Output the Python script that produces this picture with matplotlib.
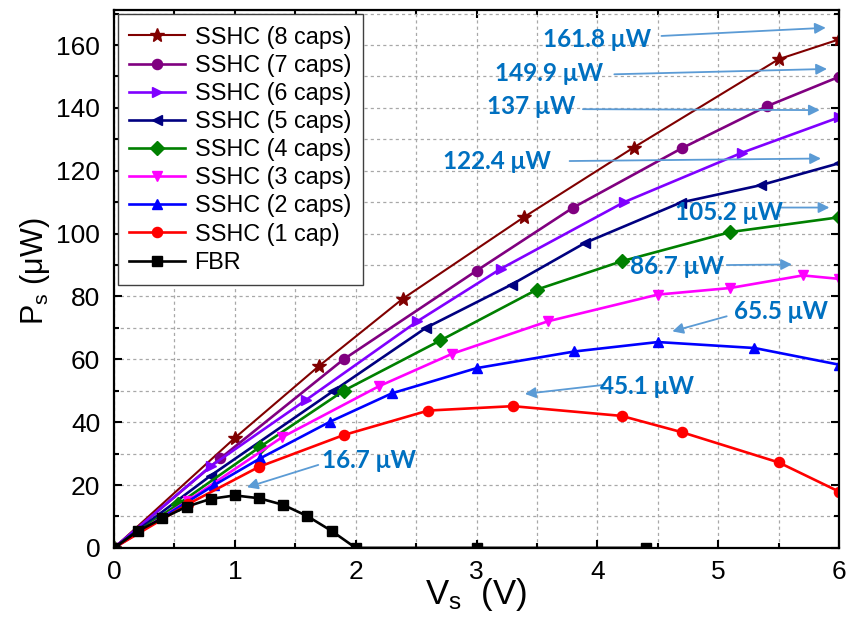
import numpy as np
import matplotlib
matplotlib.use('Agg')
import matplotlib.pyplot as plt
from matplotlib.ticker import MultipleLocator

plt.rcParams['font.family'] = ['Liberation Sans', 'DejaVu Sans']
plt.rcParams['mathtext.default'] = 'regular'

# datos
x_8caps = [0, 1.0, 1.7, 2.39, 3.39, 4.3, 5.5, 6.0]
y_8caps = [0, 35, 58, 79.3, 105.2, 127.4, 155.5, 161.8]
x_7caps = [0, 0.88, 1.9, 3.0, 3.8, 4.7, 5.4, 6.0]
y_7caps = [0, 28.5, 60, 88.2, 108.3, 127.2, 140.5, 149.9]
x_6caps = [0, 0.8, 1.59, 2.51, 3.2, 4.22, 5.2, 6.0]
y_6caps = [0, 26, 47.1, 72.1, 88.8, 110, 125.8, 137]
x_5caps = [0, 0.8, 1.81, 2.58, 3.29, 3.9, 4.69, 5.35, 6.0]
y_5caps = [0, 23, 49.8, 70, 83.8, 97.1, 109.9, 115.4, 122.4]
x_4caps = [0, 0.53, 1.21, 1.9, 2.7, 3.5, 4.2, 5.1, 6.0]
y_4caps = [0, 13.9, 32.2, 50, 66, 82.2, 91.2, 100.5, 105.2]
x_3caps = [0, 0.61, 1.39, 2.19, 2.8, 3.59, 4.5, 5.1, 5.7, 6.0]
y_3caps = [0, 15, 35.2, 51.4, 61.8, 72.1, 80.6, 82.7, 86.7, 85.6]
x_2caps = [0, 0.83, 1.21, 1.79, 2.3, 3.0, 3.81, 4.5, 5.3, 6.0]
y_2caps = [0, 20, 28.5, 40.2, 49.2, 57.2, 62.5, 65.5, 63.6, 58.3]
x_1cap = [0, 0.61, 1.2, 1.9, 2.6, 3.3, 4.2, 4.7, 5.5, 6.0]
y_1cap = [0, 13.9, 25.8, 35.9, 43.7, 45.1, 42, 36.8, 27.2, 17.9]
x_fbr = [0, 0.2, 0.4, 0.6, 0.8, 1.0, 1.2, 1.4, 1.6, 1.8, 2.0, 3.0, 4.4]
y_fbr = [0, 5.4, 9.4, 13.1, 15.6, 16.7, 15.8, 13.7, 10.1, 5.4, 0, 0, 0]

series = [
    ('SSHC (8 caps)', x_8caps, y_8caps, '#800000', '*'),
    ('SSHC (7 caps)', x_7caps, y_7caps, '#800080', 'o'),
    ('SSHC (6 caps)', x_6caps, y_6caps, '#8000FF', '>'),
    ('SSHC (5 caps)', x_5caps, y_5caps, '#000080', '<'),
    ('SSHC (4 caps)', x_4caps, y_4caps, '#008000', 'D'),
    ('SSHC (3 caps)', x_3caps, y_3caps, '#FF00FF', 'v'),
    ('SSHC (2 caps)', x_2caps, y_2caps, '#0000FF', '^'),
    ('SSHC (1 cap)', x_1cap, y_1cap, '#FF0000', 'o'),
    ('FBR', x_fbr, y_fbr, '#000000', 's'),
]

# etiquetas de potencia maxima: texto, posicion texto, cola y punta de flecha
peak_labels = ['161.8 μW', '149.9 μW', '137 μW', '122.4 μW', '105.2 μW',
               '86.7 μW', '65.5 μW', '45.1 μW', '16.7 μW']
label_xy = [(4.00, 161.9), (3.60, 150.8), (3.45, 140.3), (3.17, 123.1), (5.09, 106.8),
            (4.66, 89.6), (5.52, 75.3), (4.41, 51.3), (2.11, 27.7)]
arrow_tail = [(4.53, 162.9), (4.14, 150.7), (3.88, 139.6), (3.77, 123.1), (5.50, 108.3),
              (5.07, 90.0), (5.07, 73.7), (4.06, 51.9), (1.69, 26.4)]
arrow_head = [(5.89, 165.5), (5.90, 152.4), (5.84, 139.3), (5.85, 123.9), (5.92, 108.3),
              (5.61, 90.2), (4.62, 68.9), (3.40, 49.0), (1.10, 19.3)]

fig = plt.figure(figsize=(8.51, 6.17), dpi=100)
ax = fig.add_axes([0.134, 0.112, 0.852, 0.871])

for name, xs, ys, c, m in series:
    ms = 10 if m == '*' else 7.3
    lw = 1.5 if m == '*' else 1.9
    ax.plot(xs, ys, color=c, marker=m, ms=ms, lw=lw, label=name)

for txt, pos, t0, h in zip(peak_labels, label_xy, arrow_tail, arrow_head):
    ax.annotate('', xy=h, xytext=t0,
                arrowprops=dict(arrowstyle='-|>', color='#5B9BD5', lw=1.3,
                                mutation_scale=16, shrinkA=0, shrinkB=0))
    ax.text(pos[0], pos[1], txt, ha='center', va='center', fontsize=17.5,
            fontweight='bold', color='#0070C0', family=['Lato', 'DejaVu Sans'])

ax.set_xlim(0, 6)
ax.set_ylim(0, 171)
ax.xaxis.set_major_locator(MultipleLocator(1))
ax.xaxis.set_minor_locator(MultipleLocator(0.5))
ax.yaxis.set_major_locator(MultipleLocator(20))
ax.yaxis.set_minor_locator(MultipleLocator(10))
ax.grid(True, which='both', color='#A8A8A8', ls=(0, (2.5, 2.5)), lw=0.9)
ax.set_axisbelow(True)
ax.tick_params(which='both', direction='in', top=True, right=True, width=1.5)
ax.tick_params(which='major', length=6, labelsize=19, pad=9)
ax.tick_params(which='minor', length=3.5)
ax.tick_params(axis='y', pad=10)
for s in ax.spines.values():
    s.set_linewidth(1.6)

ax.set_xlabel('V$_s$  (V)', fontsize=25)
ax.xaxis.set_label_coords(0.5, -0.052)
ax.set_ylabel('P$_s$ (μW)', fontsize=22)
ax.yaxis.set_label_coords(-0.085, 0.515)

leg = ax.legend(loc='upper left', bbox_to_anchor=(0.0, 1.0), borderaxespad=0.15,
                fontsize=16.8, labelspacing=0.22, handlelength=2.4, handletextpad=0.4,
                borderpad=0.5, fancybox=False, framealpha=1, edgecolor='#404040')
leg.get_frame().set_linewidth(1.0)

fig.savefig('out.png', dpi=100)
